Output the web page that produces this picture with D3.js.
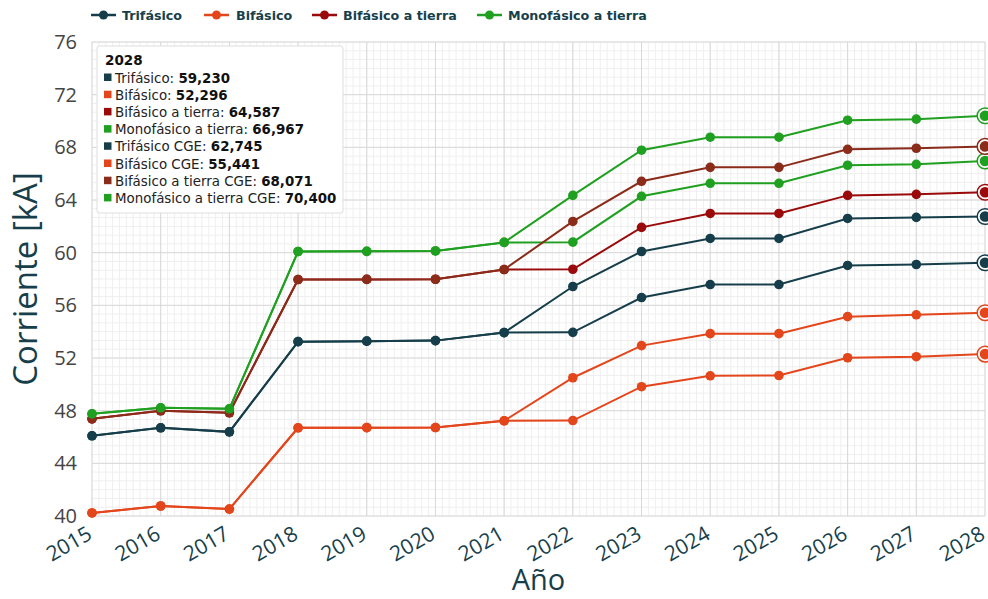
<!DOCTYPE html>
<html>
<head>
<meta charset="utf-8">
<script src="https://cdn.jsdelivr.net/npm/d3@7/dist/d3.min.js"></script>
<style>
  html, body { margin: 0; padding: 0; background: #fff; }
  svg { display: block; }
</style>
</head>
<body>
<div id="chart"></div>
<script>
// ---------- DATA ----------
const years = [2015, 2016, 2017, 2018, 2019, 2020, 2021, 2022, 2023, 2024, 2025, 2026, 2027, 2028];
const yTicks = [40, 44, 48, 52, 56, 60, 64, 68, 72, 76];

const trifasico       = [46.09, 46.70, 46.39, 53.24, 53.28, 53.32, 53.93, 53.95, 56.59, 57.58, 57.58, 59.03, 59.10, 59.230];
const bifasico        = [40.23, 40.76, 40.53, 46.70, 46.71, 46.72, 47.23, 47.25, 49.82, 50.65, 50.67, 52.02, 52.10, 52.296];
const bifasicoTierra  = [47.38, 47.99, 47.84, 57.96, 57.97, 57.98, 58.72, 58.74, 61.92, 62.98, 62.98, 64.35, 64.43, 64.587];
const monofasicoTierra= [47.76, 48.22, 48.14, 60.09, 60.10, 60.13, 60.78, 60.80, 64.28, 65.27, 65.27, 66.64, 66.71, 66.967];

const trifasicoCGE        = [46.09, 46.70, 46.39, 53.24, 53.28, 53.32, 53.93, 57.43, 60.09, 61.08, 61.08, 62.60, 62.68, 62.745];
const bifasicoCGE         = [40.23, 40.76, 40.53, 46.70, 46.71, 46.72, 47.23, 50.50, 52.94, 53.85, 53.85, 55.14, 55.28, 55.441];
const bifasicoTierraCGE   = [47.38, 47.99, 47.84, 57.96, 57.97, 57.98, 58.72, 62.37, 65.42, 66.48, 66.48, 67.85, 67.93, 68.071];
const monofasicoTierraCGE = [47.76, 48.22, 48.14, 60.09, 60.10, 60.13, 60.78, 64.35, 67.78, 68.77, 68.77, 70.06, 70.14, 70.400];

const seriesNames = ["Trifásico", "Bifásico", "Bifásico a tierra", "Monofásico a tierra",
                     "Trifásico CGE", "Bifásico CGE", "Bifásico a tierra CGE", "Monofásico a tierra CGE"];
const seriesValues = [trifasico, bifasico, bifasicoTierra, monofasicoTierra,
                      trifasicoCGE, bifasicoCGE, bifasicoTierraCGE, monofasicoTierraCGE];
const seriesColors = ["#163e4a", "#e4461c", "#9a0a0a", "#20a020",
                      "#163e4a", "#e4461c", "#8b2b1a", "#20a020"];
const legendCount = 4;
const hoverYear = 2028;

// ---------- LAYOUT ----------
const W = 988, H = 599;
const plot = { left: 92, right: 985, top: 42, bottom: 516 };
const textColor = "#173f4b";

const svg = d3.select("#chart").append("svg")
  .attr("width", W).attr("height", H)
  .style("font-family", "'Open Sans', sans-serif");

const x = d3.scaleLinear().domain([years[0], years[years.length - 1]]).range([plot.left, plot.right]);
const y = d3.scaleLinear().domain([40, 76]).range([plot.bottom, plot.top]);

// minor grid
const grid = svg.append("g");
const xMinor = d3.range(0, (years.length - 1) * 10 + 1).map(k => years[0] + k / 10);
const yMinor = d3.range(0, 9 * 6 + 1).map(k => 40 + k * 4 / 6);
grid.selectAll(".xm").data(xMinor).join("line")
  .attr("x1", d => x(d)).attr("x2", d => x(d))
  .attr("y1", plot.top).attr("y2", plot.bottom)
  .attr("stroke", "#efefef").attr("stroke-width", 1);
grid.selectAll(".ym").data(yMinor).join("line")
  .attr("y1", d => y(d)).attr("y2", d => y(d))
  .attr("x1", plot.left).attr("x2", plot.right)
  .attr("stroke", "#efefef").attr("stroke-width", 1);

// major grid
grid.selectAll(".xM").data(years).join("line")
  .attr("x1", d => x(d)).attr("x2", d => x(d))
  .attr("y1", plot.top).attr("y2", plot.bottom)
  .attr("stroke", "#d8d8d8").attr("stroke-width", 1);
grid.selectAll(".yM").data(yTicks).join("line")
  .attr("y1", d => y(d)).attr("y2", d => y(d))
  .attr("x1", plot.left).attr("x2", plot.right)
  .attr("stroke", "#d8d8d8").attr("stroke-width", 1);

// axes
const yAxis = svg.append("g")
  .attr("transform", `translate(${plot.left},0)`)
  .call(d3.axisLeft(y).tickValues(yTicks).tickSize(0).tickPadding(15));
yAxis.select(".domain").remove();
yAxis.selectAll("text").attr("font-size", 20).attr("fill", "#444")
  .style("font-family", "'Open Sans', sans-serif");

const xAxis = svg.append("g")
  .attr("transform", `translate(0,${plot.bottom})`)
  .call(d3.axisBottom(x).tickValues(years).tickFormat(d3.format("d")).tickSize(0));
xAxis.select(".domain").remove();
xAxis.selectAll("text")
  .attr("font-size", 21).attr("fill", textColor)
  .style("font-family", "'Open Sans', sans-serif")
  .attr("text-anchor", "end")
  .attr("dy", null).attr("y", 0)
  .attr("transform", "translate(-2,17) rotate(-30)")
  .attr("dominant-baseline", "middle");

// axis titles
svg.append("text")
  .attr("x", (plot.left + plot.right) / 2).attr("y", 590)
  .attr("text-anchor", "middle").attr("font-size", 29).attr("fill", textColor)
  .text("Año");
svg.append("text")
  .attr("transform", `translate(37,${(plot.top + plot.bottom) / 2}) rotate(-90)`)
  .attr("text-anchor", "middle").attr("font-size", 33).attr("fill", textColor)
  .text("Corriente [kA]");

// lines
const line = d3.line().x((d, i) => x(years[i])).y(d => y(d));
const seriesG = svg.append("g");
seriesValues.forEach((vals, s) => {
  const g = seriesG.append("g");
  g.append("path").datum(vals)
    .attr("d", line).attr("fill", "none")
    .attr("stroke", seriesColors[s]).attr("stroke-width", 2);
  g.selectAll("circle").data(vals.slice(0, -1)).join("circle")
    .attr("cx", (d, i) => x(years[i])).attr("cy", d => y(d))
    .attr("r", 4.8).attr("fill", seriesColors[s]);
});
// highlighted hover markers
seriesValues.forEach((vals, s) => {
  const i = years.indexOf(hoverYear);
  const cx = x(years[i]), cy = y(vals[i]);
  seriesG.append("circle").attr("cx", cx).attr("cy", cy).attr("r", 7.8)
    .attr("fill", "#fff").attr("stroke", seriesColors[s]).attr("stroke-width", 1.5);
  seriesG.append("circle").attr("cx", cx).attr("cy", cy).attr("r", 5.3)
    .attr("fill", seriesColors[s]);
});

// legend
const legendItems = [
  { x: 91, tx: 122 }, { x: 204, tx: 236 }, { x: 312, tx: 343 }, { x: 477, tx: 508 }
];
const legend = svg.append("g");
for (let s = 0; s < legendCount; s++) {
  const it = legendItems[s];
  legend.append("line").attr("x1", it.x).attr("x2", it.x + 25).attr("y1", 15).attr("y2", 15)
    .attr("stroke", seriesColors[s]).attr("stroke-width", 2.5);
  legend.append("circle").attr("cx", it.x + 12.5).attr("cy", 15).attr("r", 4.5).attr("fill", seriesColors[s]);
  legend.append("text").attr("x", it.tx).attr("y", 15).attr("dy", "0.36em")
    .attr("font-size", 12.7).attr("font-weight", "bold").attr("fill", textColor)
    .style("font-family", "'DejaVu Sans', Verdana, sans-serif")
    .text(seriesNames[s]);
}

// tooltip box
const tip = svg.append("g").attr("transform", "translate(97,46)")
  .style("font-family", "'DejaVu Sans', Verdana, sans-serif");
tip.append("rect").attr("width", 246).attr("height", 167)
  .attr("fill", "#fff").attr("fill-opacity", 0.96)
  .attr("stroke", "#dedede").attr("stroke-width", 1).attr("rx", 2);
tip.append("text").attr("x", 8).attr("y", 19).attr("font-size", 13.5).attr("font-weight", "bold")
  .attr("fill", "#111").text(hoverYear);
const fmt = v => d3.format(".3f")(v).replace(".", ",");
const hi = years.indexOf(hoverYear);
seriesNames.forEach((name, s) => {
  const ty = 36.5 + s * 17.2;
  tip.append("rect").attr("x", 7).attr("y", ty - 9).attr("width", 7.5).attr("height", 7.5)
    .attr("fill", seriesColors[s]);
  const t = tip.append("text").attr("x", 18).attr("y", ty).attr("font-size", 13.4).attr("fill", "#222");
  t.append("tspan").text(name + ": ");
  t.append("tspan").attr("font-weight", "bold").attr("fill", "#111").text(fmt(seriesValues[s][hi]));
});
</script>
</body>
</html>
